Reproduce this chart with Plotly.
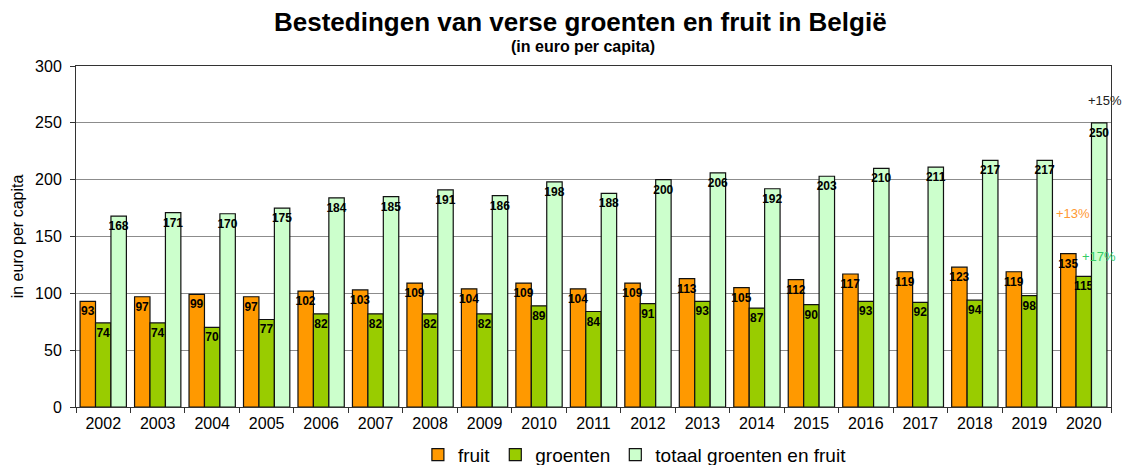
import plotly.graph_objects as go

years = ["2002", "2003", "2004", "2005", "2006", "2007", "2008", "2009", "2010", "2011",
         "2012", "2013", "2014", "2015", "2016", "2017", "2018", "2019", "2020"]
fruit = [93, 97, 99, 97, 102, 103, 109, 104, 109, 104, 109, 113, 105, 112, 117, 119, 123, 119, 135]
groenten = [74, 74, 70, 77, 82, 82, 82, 82, 89, 84, 91, 93, 87, 90, 93, 92, 94, 98, 115]
totaal = [168, 171, 170, 175, 184, 185, 191, 186, 198, 188, 200, 206, 192, 203, 210, 211, 217, 217, 250]

series_names = ["fruit", "groenten", "totaal groenten en fruit"]
series_colors = ["#FF9900", "#99CC00", "#CCFFCC"]

FONT = "Liberation Sans, Arial, sans-serif"

fig = go.Figure()
for name, vals, col in zip(series_names, [fruit, groenten, totaal], series_colors):
    fig.add_trace(go.Bar(
        name=name, x=years, y=vals,
        marker=dict(color=col, line=dict(color="#111111", width=1.2)),
        text=[str(v) for v in vals],
        textposition="inside", insidetextanchor="end", textangle=0,
        constraintext="none",
        textfont=dict(family=FONT, size=12, color="#000000", weight="bold"),
        hoverinfo="x+y",
    ))

last_idx = years.index("2020")
annots = [
    dict(text="+15%", y=270, xshift=21, color="#222222"),
    dict(text="+13%", y=170, xshift=-11, color="#FF9933"),
    dict(text="+17%", y=132, xshift=15, color="#33CC66"),
]
for a in annots:
    fig.add_annotation(x=last_idx, y=a["y"], xref="x", yref="y", text=a["text"],
                       showarrow=False, xshift=a["xshift"],
                       font=dict(family=FONT, size=13, color=a["color"]))

# Title and subtitle
fig.add_annotation(x=0.487, y=1.129, xref="paper", yref="paper", xanchor="center", yanchor="middle",
                   text="<b>Bestedingen van verse groenten en fruit in België</b>", showarrow=False,
                   font=dict(family=FONT, size=26, color="#000000"))
fig.add_annotation(x=0.490, y=1.056, xref="paper", yref="paper", xanchor="center", yanchor="middle",
                   text="<b>(in euro per capita)</b>", showarrow=False,
                   font=dict(family=FONT, size=16, color="#000000"))

fig.update_layout(
    width=1122, height=465,
    margin=dict(l=76, r=11, t=66, b=58, autoexpand=False),
    paper_bgcolor="white", plot_bgcolor="white",
    barmode="group", bargap=0.15, bargroupgap=0,
    font=dict(family=FONT, color="#000000"),
    legend=dict(orientation="h", x=0.54, xanchor="center", y=-0.14, yanchor="middle",
                font=dict(family=FONT, size=19, color="#000000"),
                itemwidth=30, tracegroupgap=0),
    showlegend=True,
)
fig.update_xaxes(
    type="category", range=[-0.5, len(years) - 0.5],
    showline=True, linecolor="#333333", linewidth=1, mirror=True,
    ticks="outside", tickson="boundaries", ticklen=5, tickcolor="#333333",
    tickfont=dict(family=FONT, size=16, color="#000000"), ticklabelstandoff=2,
    showgrid=False,
)
fig.update_yaxes(
    range=[0, 300], dtick=50, showline=True, linecolor="#333333", linewidth=1, mirror=True,
    ticks="outside", ticklen=5, tickcolor="#333333",
    tickfont=dict(family=FONT, size=16, color="#000000"), ticklabelstandoff=5,
    showgrid=True, gridcolor="#8c8c8c", gridwidth=1, zeroline=False,
    title=dict(text="in euro per capita", standoff=7,
               font=dict(family=FONT, size=16, color="#000000")),
    automargin=False,
)

fig.write_html(
    "out.html",
    config={"displayModeBar": False},
    post_script="document.body.style.margin='0';document.body.style.overflow='hidden';",
)
